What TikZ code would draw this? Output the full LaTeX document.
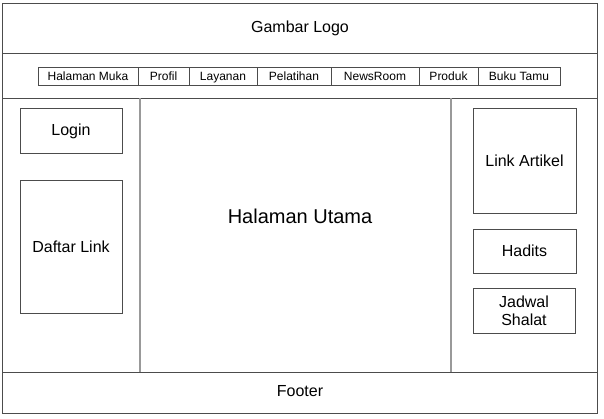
\documentclass[tikz,border=0pt]{standalone}
\usepackage{fontspec}
\setmainfont{Liberation Sans}
\usetikzlibrary{positioning}
\tikzset{
  frame/.style={draw=black!70,line width=0.9pt},
  divider/.style={draw=black!40,line width=1.2pt},
  box/.style={draw=black!70,line width=0.8pt,inner sep=0pt,align=center,font=\fontsize{16}{18}\selectfont},
  menu/.style={draw=black!70,line width=0.7pt,inner sep=0pt,outer sep=0pt,minimum height=18pt,text height=9.4pt,text depth=1pt,font=\fontsize{12}{14}\selectfont}
}
\begin{document}
\begin{tikzpicture}[x=1pt,y=-1pt]
  \useasboundingbox (0,0) rectangle (604,418);
  \fill[white] (0,0) rectangle (604,418);
  % page frame and rows
  \draw[frame] (2,3) rectangle (597,413);
  \draw[frame] (2,53) -- (597,53);
  \draw[frame] (2,98) -- (597,98);
  \draw[frame] (2,372) -- (597,372);
  \draw[divider] (140,98) -- (140,372);
  \draw[divider] (451,98) -- (451,372);
  \node[font=\fontsize{16}{18}\selectfont] (logo) at (300,28) {Gambar Logo};
  \node[font=\fontsize{16}{18}\selectfont] (footer) at (300,391) {Footer};
  \node[font=\fontsize{20}{24}\selectfont] (utama) at (300,216) {Halaman Utama};
  % menu bar
  \node[menu,minimum width=100pt] (muka) at (88,76) {Halaman Muka};
  \node[menu,minimum width=51pt,right=0pt of muka] (profil) {Profil};
  \node[menu,minimum width=68pt,right=0pt of profil] (layanan) {Layanan};
  \node[menu,minimum width=74pt,right=0pt of layanan] (pelatihan) {Pelatihan};
  \node[menu,minimum width=88pt,right=0pt of pelatihan] (newsroom) {NewsRoom};
  \node[menu,minimum width=59pt,right=0pt of newsroom] (produk) {Produk};
  \node[menu,minimum width=82pt,right=0pt of produk] (tamu) {Buku Tamu};
  % left column
  \node[box,minimum width=102pt,minimum height=45pt] (login) at (71,131) {Login};
  \node[box,minimum width=102pt,minimum height=133pt] (daftar) at (71,246.5) {Daftar Link};
  % right column
  \node[box,minimum width=103pt,minimum height=105pt] (artikel) at (524.5,160.5) {Link Artikel};
  \node[box,minimum width=103pt,minimum height=44pt] (hadits) at (524.5,251) {Hadits};
  \node[box,minimum width=102pt,minimum height=45pt] (jadwal) at (524,310.5) {Jadwal\\Shalat};
\end{tikzpicture}
\end{document}
